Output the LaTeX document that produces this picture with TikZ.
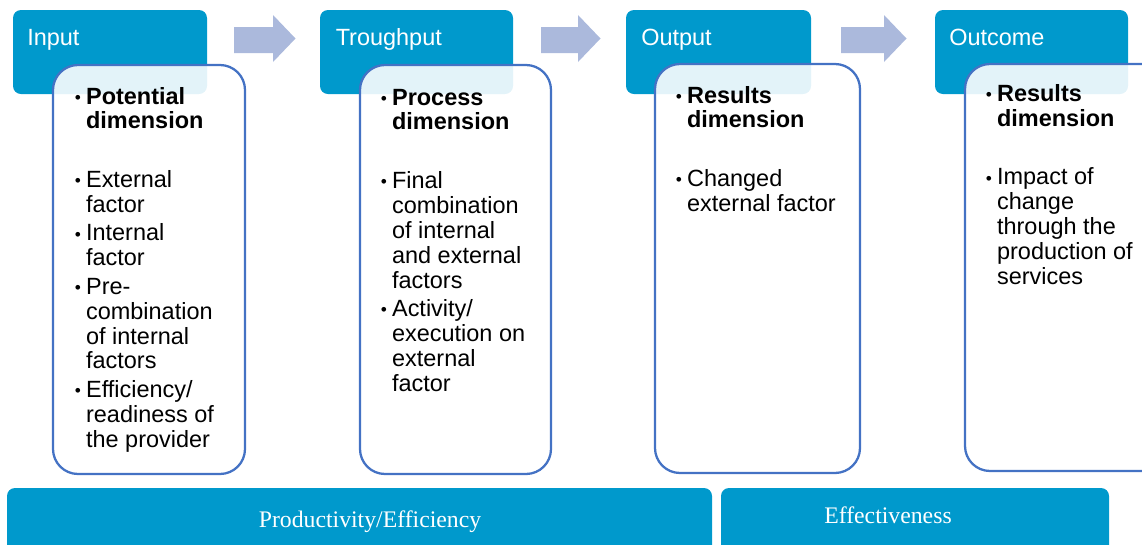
\documentclass[tikz,border=0pt]{standalone}
\usepackage{fontspec}
\setmainfont{Liberation Sans}
\newfontfamily\barfont{Liberation Serif}
\usetikzlibrary{fit}

\definecolor{headblue}{RGB}{0,153,204}
\definecolor{frameblue}{RGB}{68,114,196}
\definecolor{flowblue}{RGB}{171,185,220}

% small bullet for the lists
\newcommand{\bul}{\raisebox{0.6pt}{\fontsize{13}{13}\selectfont\textbullet}}
\newlength\titlegap \setlength\titlegap{25.2pt}
\newlength\itemgap \setlength\itemgap{2.6pt}

\begin{document}
\begin{tikzpicture}[x=0.75pt, y=-0.75pt,
  head/.style={fill=headblue, rounded corners=6pt, inner sep=0pt},
  headlbl/.style={text=white, font=\fontsize{17.6}{20}\selectfont, inner sep=0pt, anchor=base west},
  panel/.style={draw=frameblue, line width=1.7pt, fill=white, fill opacity=0.89, rounded corners=18.75pt, inner sep=0pt},
  body/.style={font=\fontsize{17.6}{18.7}\selectfont, inner sep=0pt, anchor=base west},
  bar/.style={fill=headblue, rounded corners=6pt, inner sep=0pt},
  barlbl/.style={text=white, font=\barfont\fontsize{17.8}{20}\selectfont, inner sep=0pt, anchor=base}]
\useasboundingbox (0,0) rectangle (1142,544);

% stage headers
\node[head, fit={(13,10) (207,94)}] (input) {};
\node[head, fit={(320,10) (513,94)}] (through) {};
\node[head, fit={(626,10) (811,94)}] (output) {};
\node[head, fit={(935,10) (1128,94)}] (outcome) {};
\node[headlbl] (inputlbl) at (27,45) {Input};
\node[headlbl] (throughlbl) at (335.5,45) {Troughput};
\node[headlbl] (outputlbl) at (641,45) {Output};
\node[headlbl] (outcomelbl) at (949,45) {Outcome};

% block arrows between the headers
\foreach \x/\l in {234/39, 541/37, 841/43}
  \fill[flowblue] (\x,27) -- (\x+\l,27) -- (\x+\l,15) -- (\x+\l+22.5,38.5)
    -- (\x+\l,62) -- (\x+\l,53) -- (\x,53) -- cycle;

% dimension panels
\node[panel, fit={(53,65) (245,474)}] (inputbox) {};
\node[panel, fit={(360,65) (551,474)}] (throughbox) {};
\node[panel, fit={(655,64) (860,473)}] (outputbox) {};
\node[panel, fit={(965,64) (1170,471)}] (outcomebox) {};

\node[body] (inputtxt) at (74.5,104) {\begin{tabular}[t]{@{}p{8.5pt}@{}l@{}}
\bul & \textbf{Potential}\\
 & \textbf{dimension}\\[\titlegap]
\bul & External\\
 & factor\\[\itemgap]
\bul & Internal\\
 & factor\\[\itemgap]
\bul & Pre-\\
 & combination\\
 & of internal\\
 & factors\\[\itemgap]
\bul & Efficiency/\\
 & readiness of\\
 & the provider
\end{tabular}};

\node[body] (throughtxt) at (380.5,105) {\begin{tabular}[t]{@{}p{8.5pt}@{}l@{}}
\bul & \textbf{Process}\\
 & \textbf{dimension}\\[\titlegap]
\bul & Final\\
 & combination\\
 & of internal\\
 & and external\\
 & factors\\[\itemgap]
\bul & Activity/\\
 & execution on\\
 & external\\
 & factor
\end{tabular}};

\node[body] (outputtxt) at (675.5,103) {\begin{tabular}[t]{@{}p{8.5pt}@{}l@{}}
\bul & \textbf{Results}\\
 & \textbf{dimension}\\[\titlegap]
\bul & Changed\\
 & external factor
\end{tabular}};

\node[body] (outcometxt) at (985.5,101.5) {\begin{tabular}[t]{@{}p{8.5pt}@{}l@{}}
\bul & \textbf{Results}\\
 & \textbf{dimension}\\[\titlegap]
\bul & Impact of\\
 & change\\
 & through the\\
 & production of\\
 & services
\end{tabular}};

% measures along the bottom
\node[bar, fit={(7,488) (712,560)}] (prodbar) {};
\node[bar, fit={(721,488) (1109,560)}] (effbar) {};
\node[barlbl] (prodlbl) at (370,527) {Productivity/Efficiency};
\node[barlbl] (efflbl) at (888,523) {Effectiveness};
\end{tikzpicture}
\end{document}
